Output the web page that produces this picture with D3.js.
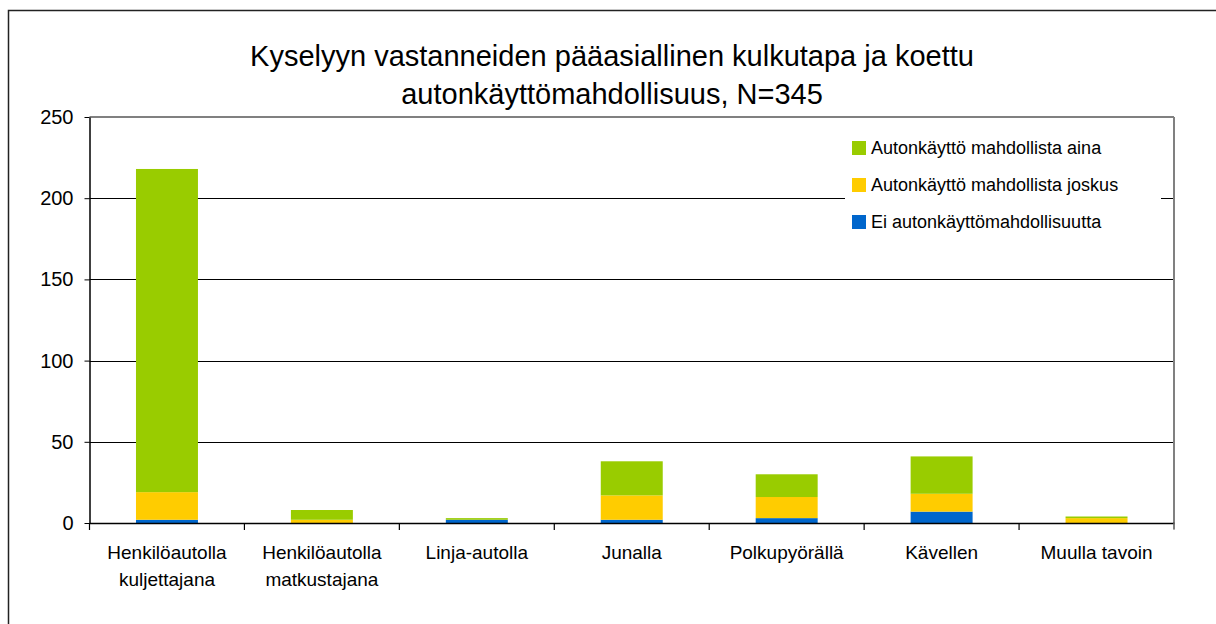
<!DOCTYPE html>
<html>
<head>
<meta charset="utf-8">
<script src="https://cdn.jsdelivr.net/npm/d3@7"></script>
<style>
  html, body { margin: 0; padding: 0; background: #fff; }
  svg { display: block; font-family: "Liberation Sans", Arial, sans-serif; }
</style>
</head>
<body>
<svg id="chart" width="1216" height="624"></svg>
<script>
const categories = [
  ["Henkilöautolla", "kuljettajana"],
  ["Henkilöautolla", "matkustajana"],
  ["Linja-autolla"],
  ["Junalla"],
  ["Polkupyörällä"],
  ["Kävellen"],
  ["Muulla tavoin"]
];
const seriesNames = [
  "Ei autonkäyttömahdollisuutta",
  "Autonkäyttö mahdollista joskus",
  "Autonkäyttö mahdollista aina"
];
const eiMahdollisuutta = [2, 0, 2, 2, 3, 7, 0];
const joskus = [17, 2, 0, 15, 13, 11, 3];
const aina = [199, 6, 1, 21, 14, 23, 1];
const yTicks = [0, 50, 100, 150, 200, 250];
const titleLines = [
  "Kyselyyn vastanneiden pääasiallinen kulkutapa ja koettu",
  "autonkäyttömahdollisuus, N=345"
];
const colors = ["#0066CC", "#FFCC00", "#99CC00"];

const svg = d3.select("#chart");
const plot = { left: 89.5, right: 1174, top: 117, bottom: 523 };

// outer chart border (extends past right/bottom edges)
svg.append("rect")
  .attr("x", 8.5).attr("y", 10.5)
  .attr("width", 1300).attr("height", 700)
  .attr("fill", "#fff").attr("stroke", "#222").attr("stroke-width", 1.5);

// title
svg.append("g").selectAll("text").data(titleLines).join("text")
  .attr("x", 612).attr("y", (d, i) => 66 + i * 38)
  .attr("text-anchor", "middle")
  .attr("font-size", 29)
  .attr("fill", "#000")
  .text(d => d);

const idx = d3.range(categories.length);
const x = d3.scaleBand().domain(idx).range([plot.left, plot.right]).paddingInner(0.6).paddingOuter(0.3);
const xb = d3.scaleBand().domain(idx).range([plot.left, plot.right]);
const y = d3.scaleLinear().domain([0, 250]).range([plot.bottom, plot.top]);

// gridlines
svg.append("g").selectAll("line").data(yTicks.filter(t => t > 0 && t < 250)).join("line")
  .attr("x1", plot.left).attr("x2", plot.right)
  .attr("y1", d => Math.round(y(d)) + 0.5).attr("y2", d => Math.round(y(d)) + 0.5)
  .attr("stroke", "#000").attr("stroke-width", 1);
// top border (gray)
svg.append("line")
  .attr("x1", plot.left).attr("x2", plot.right)
  .attr("y1", plot.top).attr("y2", plot.top)
  .attr("stroke", "#808080").attr("stroke-width", 2);
// right border (gray)
svg.append("line")
  .attr("x1", plot.right).attr("x2", plot.right)
  .attr("y1", plot.top).attr("y2", plot.bottom + 6)
  .attr("stroke", "#808080").attr("stroke-width", 2);

// stacked data
const table = idx.map(i => ({ i, s0: eiMahdollisuutta[i], s1: joskus[i], s2: aina[i] }));
const stack = d3.stack().keys(["s0", "s1", "s2"])(table);

svg.append("g").selectAll("g").data(stack).join("g")
  .attr("fill", (d, k) => colors[k])
  .selectAll("rect").data(d => d).join("rect")
  .attr("x", d => x(d.data.i))
  .attr("width", x.bandwidth())
  .attr("y", d => y(d[1]))
  .attr("height", d => Math.max(0, y(d[0]) - y(d[1])));

// y axis
const yAxis = svg.append("g")
  .attr("transform", `translate(${plot.left},0)`)
  .call(d3.axisLeft(y).tickValues(yTicks).tickSize(5).tickPadding(11).tickSizeOuter(0));
yAxis.select(".domain").attr("stroke", "#000").attr("stroke-width", 1.5);
yAxis.selectAll(".tick line").attr("stroke", "#000");
yAxis.selectAll("text").attr("font-size", 20).attr("fill", "#000").attr("font-family", "Liberation Sans, Arial, sans-serif");

// x axis
const xAxis = svg.append("g")
  .attr("transform", `translate(0,${plot.bottom})`)
  .call(d3.axisBottom(xb).tickValues([]).tickSizeOuter(0));
xAxis.select(".domain").attr("stroke", "#000").attr("stroke-width", 1.5);
// category separator ticks
svg.append("g").selectAll("line").data(d3.range(categories.length + 1)).join("line")
  .attr("x1", d => plot.left + d * xb.step()).attr("x2", d => plot.left + d * xb.step())
  .attr("y1", plot.bottom).attr("y2", plot.bottom + 7)
  .attr("stroke", d => d === categories.length ? "#808080" : "#000").attr("stroke-width", 1.2);
// category labels
const lab = svg.append("g").selectAll("text").data(idx).join("text")
  .attr("x", d => xb(d) + xb.bandwidth() / 2)
  .attr("y", 559)
  .attr("text-anchor", "middle")
  .attr("font-size", 19)
  .attr("fill", "#000");
lab.selectAll("tspan").data(d => categories[d]).join("tspan")
  .attr("x", function() { return d3.select(this.parentNode).attr("x"); })
  .attr("dy", (d, i) => i === 0 ? 0 : 27)
  .text(d => d);

// legend
const legendItems = [2, 1, 0];
const leg = svg.append("g");
leg.append("rect").attr("x", 845).attr("y", 128).attr("width", 316).attr("height", 112).attr("fill", "#fff");
const li = leg.selectAll("g.item").data(legendItems).join("g")
  .attr("transform", (d, i) => `translate(852,${147 + i * 37})`);
li.append("rect").attr("x", 0).attr("y", -6).attr("width", 14).attr("height", 14).attr("fill", d => colors[d]);
li.append("text").attr("x", 19).attr("y", 7).attr("font-size", 18).attr("fill", "#000").text(d => seriesNames[d]);
</script>
</body>
</html>
